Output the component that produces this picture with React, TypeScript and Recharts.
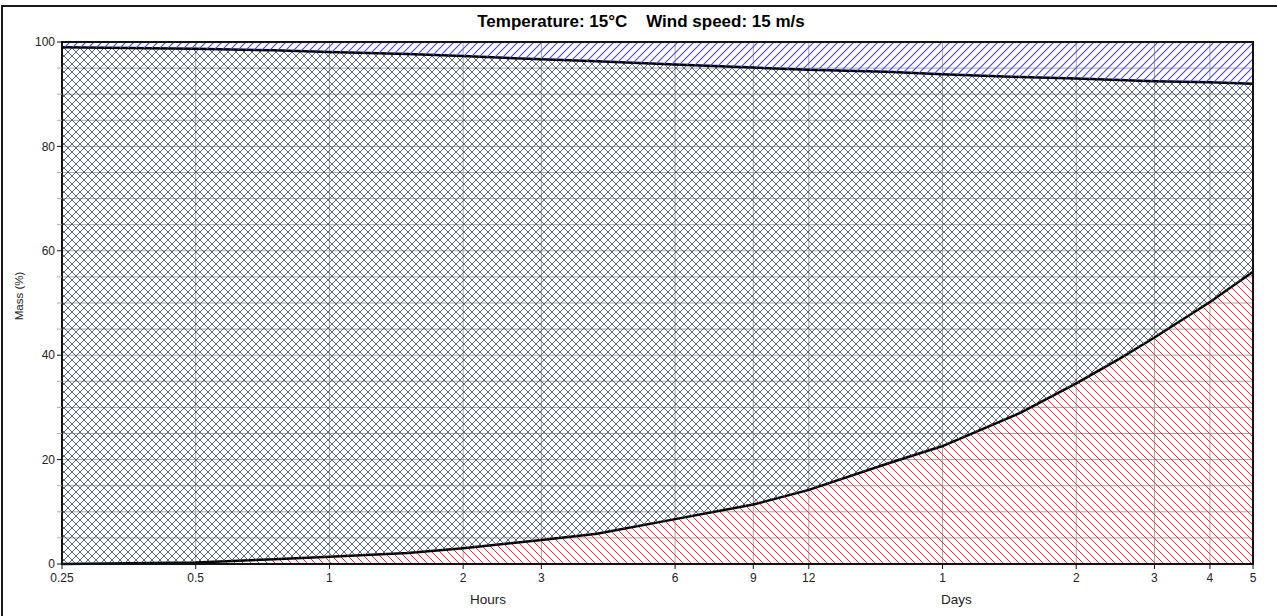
import React from 'react';
import { AreaChart, Area, XAxis, YAxis, CartesianGrid, ReferenceArea } from 'recharts';

// Time since release, in hours (log axis)
const hours = [0.25, 0.5, 0.75, 1, 1.5, 2, 3, 4, 6, 9, 12, 18, 24, 36, 48, 60, 72, 96, 120];
// Evaporated mass (%)
const evaporated = [0, 0.3, 0.9, 1.4, 2.1, 3.0, 4.6, 5.8, 8.6, 11.4, 14.2, 19.2, 22.6, 29.0, 34.6, 39.3, 43.4, 50.2, 56.0];
// Naturally dispersed mass (%)
const dispersed = [1.0, 1.3, 1.6, 1.9, 2.3, 2.7, 3.3, 3.7, 4.3, 4.9, 5.3, 5.7, 6.2, 6.7, 7.0, 7.3, 7.5, 7.7, 8.0];

const xTicks = [0.25, 0.5, 1, 2, 3, 6, 9, 12, 24, 48, 72, 96, 120];
const yTicks = [0, 5, 10, 15, 20, 25, 30, 35, 40, 45, 50, 55, 60, 65, 70, 75, 80, 85, 90, 95, 100];

const titleText = 'Temperature: 15°C    Wind speed: 15 m/s';
const yLabelText = 'Mass (%)';
const hoursLabel = 'Hours';
const daysLabel = 'Days';

const data = hours.map((h, i) => ({
  h,
  evaporated: evaporated[i],
  remaining: 100 - evaporated[i] - dispersed[i],
  dispersed: dispersed[i],
}));

const FONT = '"Liberation Sans", Arial, sans-serif';

const fmtX = (v: number) => (v >= 24 ? String(v / 24) : String(v));

const YTick = (props: any) => {
  const { x, y, payload } = props;
  const v = payload.value as number;
  const major = v % 20 === 0;
  return (
    <g>
      <line x1={x + 2} x2={x + 7} y1={y} y2={y} stroke={major ? '#111' : '#a8a8a8'} strokeWidth={1} />
      {major && (
        <text x={x} y={y} dy="0.35em" textAnchor="end" fontSize={12} fill="#222" fontFamily={FONT}>
          {v}
        </text>
      )}
    </g>
  );
};

export default function App() {
  return (
    <div
      style={{
        position: 'absolute',
        left: 0,
        top: 0,
        width: 1277,
        height: 616,
        overflow: 'hidden',
        background: '#fff',
        fontFamily: FONT,
      }}
    >
      <div
        style={{
          position: 'absolute',
          left: 1,
          top: 5,
          width: 1400,
          height: 800,
          borderTop: '2px solid #1a1a1a',
          borderLeft: '2px solid #1a1a1a',
        }}
      />
      <div
        style={{
          position: 'absolute',
          left: 0,
          width: 1282,
          top: 12,
          textAlign: 'center',
          fontSize: 17,
          fontWeight: 'bold',
          whiteSpace: 'pre',
          color: '#000',
        }}
      >
        {titleText}
      </div>
      <div
        style={{
          position: 'absolute',
          left: 19,
          top: 296,
          transform: 'translate(-50%, -50%) rotate(-90deg)',
          fontSize: 11.5,
          color: '#222',
          whiteSpace: 'pre',
        }}
      >
        {yLabelText}
      </div>
      <div style={{ position: 'absolute', left: 470, top: 592, fontSize: 13.5, color: '#222' }}>{hoursLabel}</div>
      <div style={{ position: 'absolute', left: 941, top: 592, fontSize: 13.5, color: '#222' }}>{daysLabel}</div>
      <div style={{ position: 'absolute', left: 0, top: 0 }}>
        <AreaChart
          width={1277}
          height={616}
          data={data}
          margin={{ top: 42, right: 24, bottom: 22, left: 12 }}
        >
          <defs>
            <pattern id="hatchRed" width="8" height="8" patternUnits="userSpaceOnUse">
              <path d="M-2,6 L2,10 M0,0 L8,8 M6,-2 L10,2" stroke="#ff2a2a" strokeWidth={1} />
            </pattern>
            <pattern id="hatchCross" width="8" height="8" patternUnits="userSpaceOnUse">
              <path
                d="M-2,6 L2,10 M0,0 L8,8 M6,-2 L10,2 M-2,2 L2,-2 M0,8 L8,0 M6,10 L10,6"
                stroke="#364060"
                strokeWidth={0.8}
              />
            </pattern>
            <pattern id="hatchBlue" width="8" height="8" patternUnits="userSpaceOnUse">
              <path d="M-2,2 L2,-2 M0,8 L8,0 M6,10 L10,6" stroke="#4646f0" strokeWidth={1.1} />
            </pattern>
          </defs>
          <CartesianGrid stroke="#a8a8a8" strokeWidth={1} />
          <XAxis
            dataKey="h"
            type="number"
            scale="log"
            domain={[0.25, 120]}
            allowDataOverflow
            ticks={xTicks}
            tickFormatter={fmtX}
            interval={0}
            height={30}
            tickSize={5}
            tickMargin={4}
            axisLine={{ stroke: '#111', strokeWidth: 2 }}
            tickLine={{ stroke: '#111' }}
            tick={{ fontSize: 12, fill: '#222', fontFamily: FONT }}
          />
          <YAxis
            type="number"
            domain={[0, 100]}
            ticks={yTicks}
            interval={0}
            width={50}
            tickSize={5}
            tickMargin={2}
            tickLine={false}
            axisLine={{ stroke: '#111', strokeWidth: 2 }}
            tick={<YTick />}
          />
          <Area
            type="linear"
            dataKey="evaporated"
            stackId="m"
            fill="url(#hatchRed)"
            fillOpacity={1}
            stroke="#000"
            strokeWidth={2.5}
            isAnimationActive={false}
            dot={false}
            activeDot={false}
          />
          <Area
            type="linear"
            dataKey="remaining"
            stackId="m"
            fill="url(#hatchCross)"
            fillOpacity={1}
            stroke="#000"
            strokeWidth={2.5}
            isAnimationActive={false}
            dot={false}
            activeDot={false}
          />
          <Area
            type="linear"
            dataKey="dispersed"
            stackId="m"
            fill="url(#hatchBlue)"
            fillOpacity={1}
            stroke="none"
            isAnimationActive={false}
            dot={false}
            activeDot={false}
          />
          <ReferenceArea x1={0.25} x2={120} y1={0} y2={100} fill="none" stroke="#111" strokeWidth={2} />
        </AreaChart>
      </div>
    </div>
  );
}
